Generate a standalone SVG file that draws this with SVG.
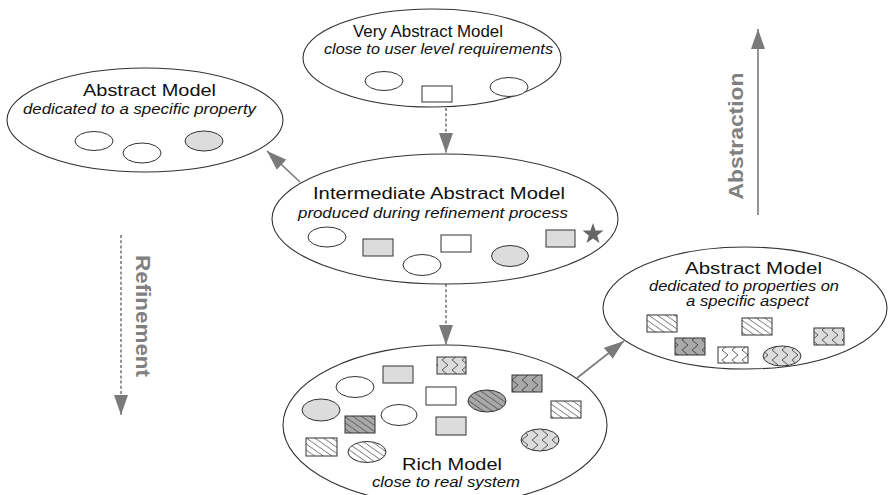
<svg xmlns="http://www.w3.org/2000/svg" width="889" height="495" viewBox="0 0 889 495">
<style>
.bg{fill:#fff}
.model{fill:#fff;stroke:#333;stroke-width:1.1}
.s{stroke:#333;stroke-width:1}
.w{fill:#fff}
.l{fill:#dcdcdc}
.d{fill:#a9a9a9}
.t{font-family:"Liberation Sans",Arial,sans-serif;font-size:17px;fill:#111}
.i{font-family:"Liberation Sans",Arial,sans-serif;font-size:14px;font-style:italic;fill:#111}
.big{font-family:"Liberation Sans",Arial,sans-serif;font-size:21px;font-weight:bold;fill:#808080}
.arr{stroke:#7a7a7a;stroke-width:1.6;fill:none}
.dash{stroke-dasharray:3,2.2}
</style>
<defs>
<marker id="ah" markerUnits="userSpaceOnUse" markerWidth="20" markerHeight="14" refX="20" refY="7" orient="auto">
<path d="M0,0 L20,7 L0,14 z" fill="#7a7a7a"/>
</marker>
<pattern id="hW" patternUnits="userSpaceOnUse" width="7" height="7" patternTransform="rotate(-10)">
<rect width="7" height="7" fill="#fff"/>
<path d="M-2,-2 L9,9 M-9,-2 L2,9 M5,-2 L16,9" stroke="#333" stroke-width="0.8"/>
</pattern>
<pattern id="hD" patternUnits="userSpaceOnUse" width="7" height="7" patternTransform="rotate(-10)">
<rect width="7" height="7" fill="#a9a9a9"/>
<path d="M-2,-2 L9,9 M-9,-2 L2,9 M5,-2 L16,9" stroke="#333" stroke-width="0.8"/>
</pattern>
<pattern id="zW" patternUnits="userSpaceOnUse" width="10" height="10">
<rect width="10" height="10" fill="#fff"/>
<path d="M2,0 L8,5 L2,10" stroke="#333" stroke-width="0.8" fill="none"/>
</pattern>
<pattern id="zL" patternUnits="userSpaceOnUse" width="10" height="10">
<rect width="10" height="10" fill="#dcdcdc"/>
<path d="M2,0 L8,5 L2,10" stroke="#333" stroke-width="0.8" fill="none"/>
</pattern>
<pattern id="zD" patternUnits="userSpaceOnUse" width="10" height="10">
<rect width="10" height="10" fill="#a9a9a9"/>
<path d="M2,0 L8,5 L2,10" stroke="#333" stroke-width="0.8" fill="none"/>
</pattern>
</defs>
<rect class="bg" width="889" height="495"/>

<g id="connectors">
<line class="arr dash" x1="446" y1="108" x2="446" y2="153" marker-end="url(#ah)"/>
<line class="arr dash" x1="446" y1="284" x2="446" y2="345" marker-end="url(#ah)"/>
<line class="arr" x1="300" y1="182" x2="267" y2="151" marker-end="url(#ah)"/>
<line class="arr" x1="577" y1="378" x2="624" y2="341" marker-end="url(#ah)"/>
<line class="arr" x1="758" y1="215" x2="758" y2="29" marker-end="url(#ah)"/>
<line class="arr dash" x1="121" y1="235" x2="121" y2="415" marker-end="url(#ah)"/>
</g>

<g id="label-abstraction">
<text class="big" transform="translate(743,136) rotate(-90)" text-anchor="middle" textLength="127" lengthAdjust="spacingAndGlyphs">Abstraction</text>
</g>
<g id="label-refinement">
<text class="big" transform="translate(136,316) rotate(90)" text-anchor="middle" textLength="122" lengthAdjust="spacingAndGlyphs">Refinement</text>
</g>

<g id="very-abstract-model">
<ellipse class="model" cx="432" cy="58" rx="129" ry="49"/>
<text class="t" x="353" y="37" textLength="150" lengthAdjust="spacingAndGlyphs">Very Abstract Model</text>
<text class="i" x="324" y="54" textLength="229" lengthAdjust="spacingAndGlyphs">close to user level requirements</text>
<ellipse class="s w" cx="384" cy="81" rx="19" ry="9.5"/>
<rect class="s w" x="422" y="86" width="30" height="16"/>
<ellipse class="s w" cx="509" cy="87" rx="19" ry="9.5"/>
</g>

<g id="abstract-model-property">
<ellipse class="model" cx="145" cy="120" rx="138" ry="52"/>
<text class="t" x="83" y="96" textLength="133" lengthAdjust="spacingAndGlyphs">Abstract Model</text>
<text class="i" x="23" y="114" textLength="233" lengthAdjust="spacingAndGlyphs">dedicated to a specific property</text>
<ellipse class="s w" cx="94" cy="141" rx="19" ry="9.5"/>
<ellipse class="s w" cx="142" cy="153" rx="19" ry="10"/>
<ellipse class="s l" cx="204" cy="141" rx="19" ry="10"/>
</g>

<g id="intermediate-model">
<ellipse class="model" cx="445" cy="219" rx="173" ry="65"/>
<text class="t" x="313" y="199" textLength="252" lengthAdjust="spacingAndGlyphs">Intermediate Abstract Model</text>
<text class="i" x="298" y="218" textLength="270" lengthAdjust="spacingAndGlyphs">produced during refinement process</text>
<ellipse class="s w" cx="327" cy="237" rx="19" ry="10"/>
<rect class="s l" x="363" y="239" width="30" height="17"/>
<ellipse class="s w" cx="422" cy="265" rx="19" ry="10.5"/>
<rect class="s w" x="441" y="235" width="30" height="17"/>
<ellipse class="s l" cx="510" cy="256" rx="18.5" ry="10.5"/>
<rect class="s l" x="546" y="230" width="29" height="17"/>
<polygon fill="#666" points="593,223 595.6,230.4 603.5,230.6 597.2,235.4 599.5,242.9 593,238.4 586.5,242.9 588.8,235.4 582.5,230.6 590.4,230.4"/>
</g>

<g id="abstract-model-aspect">
<ellipse class="model" cx="745" cy="308" rx="142" ry="61"/>
<text class="t" x="685" y="274" textLength="137" lengthAdjust="spacingAndGlyphs">Abstract Model</text>
<text class="i" x="649" y="290.5" textLength="190" lengthAdjust="spacingAndGlyphs">dedicated to properties on</text>
<text class="i" x="686" y="305.5" textLength="123" lengthAdjust="spacingAndGlyphs">a specific aspect</text>
<rect class="s" fill="url(#hW)" x="647" y="315" width="30" height="17"/>
<rect class="s" fill="url(#hW)" x="742" y="318" width="30" height="17"/>
<rect class="s" fill="url(#zL)" x="814" y="328" width="30" height="17"/>
<rect class="s" fill="url(#zD)" x="675" y="338" width="30" height="17"/>
<rect class="s" fill="url(#zW)" x="718" y="347" width="30" height="16"/>
<ellipse class="s" fill="url(#zL)" cx="782" cy="356" rx="19" ry="10"/>
</g>

<g id="rich-model">
<ellipse class="model" cx="445" cy="425" rx="162" ry="80"/>
<rect class="s l" x="383" y="366" width="30" height="17"/>
<rect class="s" fill="url(#zL)" x="437" y="357" width="29" height="17"/>
<ellipse class="s w" cx="355" cy="387" rx="19" ry="10.5"/>
<rect class="s w" x="426" y="387" width="30" height="18"/>
<ellipse class="s" fill="url(#hD)" cx="487" cy="401" rx="19" ry="11"/>
<rect class="s" fill="url(#zD)" x="512" y="375" width="30" height="17"/>
<rect class="s" fill="url(#hW)" x="551" y="401" width="30" height="17"/>
<ellipse class="s l" cx="321" cy="410" rx="19" ry="11"/>
<ellipse class="s w" cx="399" cy="415" rx="18" ry="10.5"/>
<rect class="s" fill="url(#hD)" x="345" y="416" width="30" height="17"/>
<rect class="s l" x="436" y="417" width="30" height="18"/>
<rect class="s" fill="url(#hW)" x="306" y="438" width="31" height="18"/>
<ellipse class="s" fill="url(#hW)" cx="367" cy="452" rx="19" ry="10.5"/>
<ellipse class="s" fill="url(#zL)" cx="540" cy="440" rx="19" ry="11"/>
<text class="t" x="402" y="470" textLength="100" lengthAdjust="spacingAndGlyphs">Rich Model</text>
<text class="i" x="372" y="487" textLength="148" lengthAdjust="spacingAndGlyphs">close to real system</text>
</g>
</svg>
